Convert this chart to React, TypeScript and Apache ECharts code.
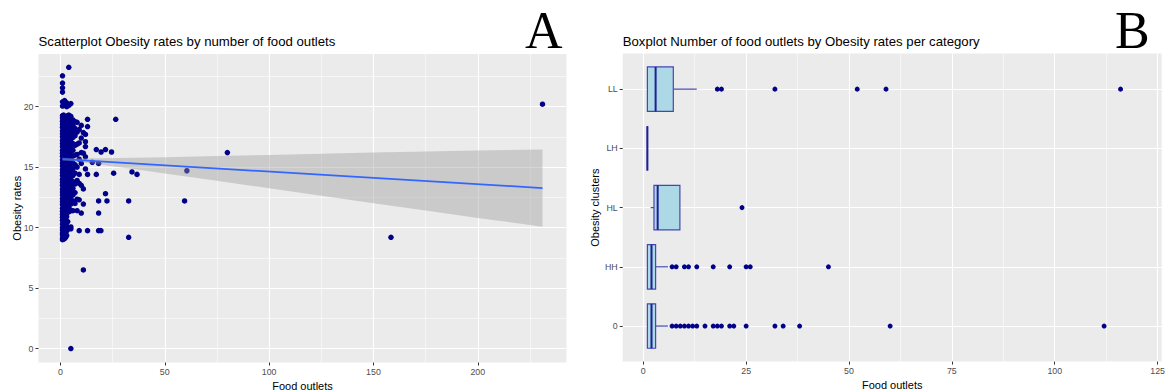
import React, { useEffect, useRef } from "react";
import * as echarts from "echarts";

// ---------- Panel A: scatter data ----------
const denseOutlets = [1, 1.5, 2, 2.5, 3, 3.5, 4, 4.5, 5, 6, 7, 8, 9, 10, 11, 12, 13];
const denseRates: number[][] = [
  [9.0, 9.15, 9.4, 9.55, 9.8, 10.0, 10.3, 10.6, 10.85, 11.1, 11.35, 11.6, 11.9, 12.15, 12.4, 12.7, 12.95, 13.2, 13.5, 13.75, 14.0, 14.3, 14.55, 14.8, 15.1, 15.35, 15.6, 15.9, 16.15, 16.4, 16.7, 16.95, 17.2, 17.5, 17.75, 18.0, 18.3, 18.55, 18.8, 19.05, 19.25, 20.05, 20.4, 21.2, 21.55, 21.95, 22.55],
  [9.05, 9.5, 9.7, 10.1, 10.45, 10.7, 11.05, 11.3, 11.55, 11.85, 12.1, 12.35, 12.6, 12.9, 13.15, 13.4, 13.65, 13.95, 14.2, 14.45, 14.75, 15.0, 15.25, 15.55, 15.8, 16.05, 16.35, 16.6, 16.85, 17.15, 17.4, 17.65, 17.95, 18.2, 18.45, 18.75, 19.0, 19.3, 20.15],
  [9.1, 9.3, 9.65, 9.9, 10.15, 10.5, 10.75, 11.0, 11.25, 11.5, 11.8, 12.05, 12.3, 12.55, 12.85, 13.1, 13.35, 13.6, 13.9, 14.15, 14.4, 14.7, 14.95, 15.2, 15.5, 15.75, 16.0, 16.3, 16.55, 16.8, 17.1, 17.35, 17.6, 17.9, 18.15, 18.4, 18.7, 18.95, 19.2, 20.2, 20.5],
  [9.2, 9.6, 10.25, 10.6, 11.15, 11.4, 11.65, 11.95, 12.2, 12.45, 12.75, 13.0, 13.25, 13.5, 13.8, 14.05, 14.3, 14.6, 14.85, 15.1, 15.4, 15.65, 15.9, 16.2, 16.45, 16.7, 17.0, 17.25, 17.5, 17.8, 18.05, 18.3, 18.6, 18.85, 19.1, 20.35],
  [9.35, 9.75, 10.05, 10.4, 10.9, 11.2, 11.45, 11.7, 12.0, 12.25, 12.5, 12.8, 13.05, 13.3, 13.55, 13.85, 14.1, 14.35, 14.65, 14.9, 15.15, 15.45, 15.7, 15.95, 16.25, 16.5, 16.75, 17.05, 17.3, 17.55, 17.85, 18.1, 18.35, 18.65, 18.9, 19.15, 20.0, 20.3],
  [9.85, 10.5, 11.35, 11.6, 11.9, 12.2, 12.45, 12.75, 13.0, 13.3, 13.55, 13.8, 14.1, 14.35, 14.65, 14.9, 15.2, 15.45, 15.75, 16.0, 16.3, 16.55, 16.8, 17.1, 17.35, 17.65, 17.9, 18.2, 18.45, 18.75, 19.0, 19.25],
  [10.0, 11.3, 11.55, 11.85, 12.1, 12.4, 12.65, 12.9, 13.2, 13.45, 13.7, 14.0, 14.25, 14.5, 14.8, 15.05, 15.3, 15.6, 15.85, 16.1, 16.4, 16.65, 16.9, 17.2, 17.45, 17.7, 18.0, 18.25, 18.5, 18.8, 19.05, 19.3, 20.1, 23.25],
  [11.5, 12.0, 12.5, 12.85, 13.15, 13.55, 13.9, 14.2, 14.55, 14.9, 15.2, 15.55, 15.9, 16.2, 16.55, 16.9, 17.25, 17.55, 17.9, 18.2, 18.55, 18.85, 19.1],
  [0.0, 9.9, 10.05, 11.4, 11.95, 12.3, 12.6, 12.95, 13.3, 13.6, 13.95, 14.3, 14.6, 14.95, 15.3, 15.6, 15.95, 16.3, 16.6, 16.95, 17.3, 17.6, 17.95, 18.3, 18.6, 18.9, 19.2, 20.25],
  [11.4, 12.2, 12.7, 13.25, 13.8, 14.3, 14.85, 15.35, 15.9, 16.4, 16.95, 17.45, 17.95, 18.45, 18.9],
  [12.0, 12.9, 13.6, 14.5, 15.2, 16.0, 16.8, 17.6, 18.2, 18.75],
  [11.4, 12.35, 13.9, 15.0, 16.05, 16.9, 17.9, 18.7],
  [9.75, 12.3, 13.65, 14.4, 15.65, 17.0, 18.1],
  [11.2, 13.5, 15.3, 16.2, 17.4, 18.45],
  [6.5, 11.95, 13.2, 16.15, 17.85],
  [14.85, 15.85, 16.7, 17.1, 17.7],
  [9.75, 14.4, 18.35, 18.95],
];
const sparseOutlets = [15.3, 17.2, 17.2, 18.3, 18.3, 18.3, 18.3, 19.4, 19.5, 21.6, 21.6, 22.3, 24.5, 25.5, 26.5, 32.7, 32.7, 34.3, 36.7, 59.5, 60.6, 80, 158.4, 231];
const sparseRates = [15.4, 16.45, 14.4, 15.3, 12.2, 11.2, 9.75, 9.75, 16.25, 16.45, 12.8, 12.2, 16.25, 14.5, 18.95, 12.2, 9.2, 14.6, 14.4, 12.2, 14.7, 16.2, 9.2, 20.2];

// linear fit and its confidence band
const fitOutlets = [1, 231];
const fitRates = [15.66, 13.27];
const bandOutlets = [1, 3, 6, 10, 20, 35, 50, 75, 100, 125, 150, 175, 200, 231];
const bandLower = [15.53, 15.52, 15.48, 15.4, 15.18, 14.84, 14.48, 13.87, 13.25, 12.64, 12.02, 11.41, 10.8, 10.08];
const bandUpper = [15.79, 15.76, 15.74, 15.74, 15.74, 15.78, 15.82, 15.91, 16.01, 16.1, 16.2, 16.29, 16.38, 16.46];

const xTicksA = [0, 50, 100, 150, 200];
const yTicksA = [0, 5, 10, 15, 20];

// ---------- Panel B: boxplot data ----------
const clusterNames = ["0", "HH", "HL", "LH", "LL"];
const boxLow = [1, 1, 1.8, 1, 1];
const boxQ1 = [1, 1, 2.6, 1, 1];
const boxMedian = [2, 2, 3.5, 1, 3];
const boxQ3 = [3, 3, 8.9, 1, 7.3];
const boxHigh = [6, 6, 8.9, 1, 13];
const outliers0 = [7, 8, 9, 10, 11, 12, 13, 15, 17, 18, 19, 21, 22, 25, 32, 34, 38, 60, 112];
const outliersHH = [7, 8, 10, 11, 13, 17, 21, 25, 26, 45];
const outliersHL = [24];
const outliersLH: number[] = [];
const outliersLL = [18, 19, 32, 52, 59, 116];
const clusterOutliers = [outliers0, outliersHH, outliersHL, outliersLH, outliersLL];

const xTicksB = [0, 25, 50, 75, 100, 125];
const xMinorB = [12.5, 37.5, 62.5, 87.5, 112.5];
const yTicksB = [1, 2, 3, 4, 5];

const FONT = "Liberation Sans";
const LABEL = { fontSize: 8.8, color: "#4d4d4d", fontFamily: FONT };
const NAME = { fontSize: 11, color: "#000", fontFamily: FONT };
const TICK = { show: true, length: 3, lineStyle: { color: "#333", width: 1 } };
const MAJOR = { show: true, lineStyle: { color: "#ffffff", width: 1.1 } };
const MINOR = { show: true, lineStyle: { color: "#ffffff", width: 0.55 } };
const NOLINE = { show: false, onZero: false };

export default function App() {
  const ref = useRef<HTMLDivElement>(null);
  useEffect(() => {
    if (!ref.current) return;
    const chart = echarts.init(ref.current, undefined, { renderer: "svg" });

    const scatterA: number[][] = [];
    denseOutlets.forEach((x, i) => denseRates[i].forEach((y) => scatterA.push([x, y])));
    sparseOutlets.forEach((x, i) => scatterA.push([x, sparseRates[i]]));

    const outlierPts: number[][] = [];
    clusterOutliers.forEach((arr, i) => arr.forEach((v) => outlierPts.push([v, i + 1])));

    const boxData = clusterNames.map((_, i) => [i + 1, boxLow[i], boxQ1[i], boxMedian[i], boxQ3[i], boxHigh[i]]);
    const boxStroke = "#4646b2";

    chart.setOption({
      animation: false,
      backgroundColor: "#ffffff",
      textStyle: { fontFamily: FONT },
      title: [
        { text: "Scatterplot Obesity rates by number of food outlets", left: 38.5, top: 35, padding: 0, textStyle: { fontSize: 13.2, fontWeight: "normal", color: "#000", fontFamily: FONT } },
        { text: "A", left: 525, top: 4, padding: 0, textStyle: { fontSize: 52, fontWeight: "normal", color: "#000", fontFamily: "Liberation Serif" } },
        { text: "Boxplot Number of food outlets by Obesity rates per category", left: 622.7, top: 35, padding: 0, textStyle: { fontSize: 13.2, fontWeight: "normal", color: "#000", fontFamily: FONT } },
        { text: "B", left: 1115, top: 4, padding: 0, textStyle: { fontSize: 52, fontWeight: "normal", color: "#000", fontFamily: "Liberation Serif" } },
      ],
      grid: [
        { left: 38.5, top: 54, width: 528, height: 308.5, show: true, backgroundColor: "#ebebeb", borderWidth: 0, containLabel: false, outerBoundsMode: "none" },
        { left: 622.7, top: 53.6, width: 539, height: 308, show: true, backgroundColor: "#ebebeb", borderWidth: 0, containLabel: false, outerBoundsMode: "none" },
      ],
      xAxis: [
        {
          type: "value", gridIndex: 0, min: -10.5, max: 242.5, position: "bottom",
          axisLine: NOLINE,
          axisTick: { ...TICK, customValues: xTicksA },
          axisLabel: { ...LABEL, margin: 5, customValues: xTicksA },
          splitLine: MAJOR,
          minorTick: { show: false, splitNumber: 2 },
          minorSplitLine: MINOR,
          name: "Food outlets", nameLocation: "middle", nameGap: 18, nameMoveOverlap: false, nameTextStyle: NAME,
        },
        {
          type: "value", gridIndex: 1, min: -5, max: 126, position: "bottom",
          axisLine: NOLINE,
          axisTick: { ...TICK, customValues: xTicksB },
          axisLabel: { ...LABEL, margin: 5, customValues: xTicksB },
          splitLine: MAJOR,
          name: "Food outlets", nameLocation: "middle", nameGap: 18, nameMoveOverlap: false, nameTextStyle: NAME,
        },
        {
          type: "value", gridIndex: 1, min: -5, max: 126, position: "top",
          axisLine: NOLINE,
          axisTick: { show: false, customValues: xMinorB },
          axisLabel: { show: false, customValues: xMinorB },
          splitLine: MINOR,
        },
      ],
      yAxis: [
        {
          type: "value", gridIndex: 0, min: -1.15, max: 24.35, position: "left",
          axisLine: NOLINE,
          axisTick: { ...TICK, customValues: yTicksA },
          axisLabel: { ...LABEL, margin: 5, customValues: yTicksA },
          splitLine: MAJOR,
          minorTick: { show: false, splitNumber: 2 },
          minorSplitLine: MINOR,
          name: "Obesity rates", nameLocation: "middle", nameGap: 16, nameMoveOverlap: false, nameTextStyle: NAME,
        },
        {
          type: "value", gridIndex: 1, min: 0.4, max: 5.6, position: "left",
          axisLine: NOLINE,
          axisTick: { ...TICK, customValues: yTicksB },
          axisLabel: { ...LABEL, margin: 5, customValues: yTicksB, formatter: (v: number) => clusterNames[Math.round(v) - 1] ?? "" },
          splitLine: MAJOR,
          name: "Obesity clusters", nameLocation: "middle", nameGap: 22, nameMoveOverlap: false, nameTextStyle: NAME,
        },
      ],
      series: [
        {
          type: "scatter", xAxisIndex: 0, yAxisIndex: 0, z: 2,
          symbolSize: 5.5, itemStyle: { color: "#00008b", opacity: 1 },
          data: scatterA, silent: true,
        },
        {
          type: "custom", xAxisIndex: 0, yAxisIndex: 0, z: 3, silent: true,
          data: [[fitOutlets[0], fitRates[0]]],
          renderItem: (_params: any, api: any) => {
            const upper = bandOutlets.map((x, i) => api.coord([x, bandUpper[i]]));
            const lower = bandOutlets.map((x, i) => api.coord([x, bandLower[i]])).reverse();
            return { type: "polygon", shape: { points: upper.concat(lower) }, style: { fill: "rgba(153,153,153,0.4)", stroke: "none" } };
          },
        },
        {
          type: "line", xAxisIndex: 0, yAxisIndex: 0, z: 4, silent: true,
          symbol: "none", lineStyle: { color: "#3366ff", width: 1.7 },
          data: fitOutlets.map((x, i) => [x, fitRates[i]]),
        },
        {
          type: "custom", xAxisIndex: 1, yAxisIndex: 1, z: 3, silent: true,
          encode: { x: [1, 2, 3, 4, 5], y: 0 },
          data: boxData,
          renderItem: (_params: any, api: any) => {
            const c = api.value(0);
            const pLo = api.coord([api.value(1), c]);
            const pQ1 = api.coord([api.value(2), c]);
            const pMed = api.coord([api.value(3), c]);
            const pQ3 = api.coord([api.value(4), c]);
            const pHi = api.coord([api.value(5), c]);
            const h = api.size([0, 0.75])[1];
            const cy = pMed[1];
            const children: any[] = [];
            if (pQ1[0] - pLo[0] > 0.5) children.push({ type: "line", shape: { x1: pLo[0], y1: cy, x2: pQ1[0], y2: cy }, style: { stroke: boxStroke, lineWidth: 1.2 } });
            if (pHi[0] - pQ3[0] > 0.5) children.push({ type: "line", shape: { x1: pQ3[0], y1: cy, x2: pHi[0], y2: cy }, style: { stroke: boxStroke, lineWidth: 1.2 } });
            children.push({ type: "rect", shape: { x: pQ1[0], y: cy - h / 2, width: pQ3[0] - pQ1[0], height: h }, style: { fill: "#add8e6", stroke: boxStroke, lineWidth: 1.2 } });
            children.push({ type: "line", shape: { x1: pMed[0], y1: cy - h / 2, x2: pMed[0], y2: cy + h / 2 }, style: { stroke: "#1f1f95", lineWidth: 2 } });
            return { type: "group", children };
          },
        },
        {
          type: "scatter", xAxisIndex: 1, yAxisIndex: 1, z: 4, silent: true,
          symbolSize: 5, itemStyle: { color: "#00008b", opacity: 1 },
          data: outlierPts,
        },
      ],
    });
    return () => chart.dispose();
  }, []);
  return <div ref={ref} style={{ position: "absolute", left: 0, top: 0, width: 1167, height: 392 }} />;
}
